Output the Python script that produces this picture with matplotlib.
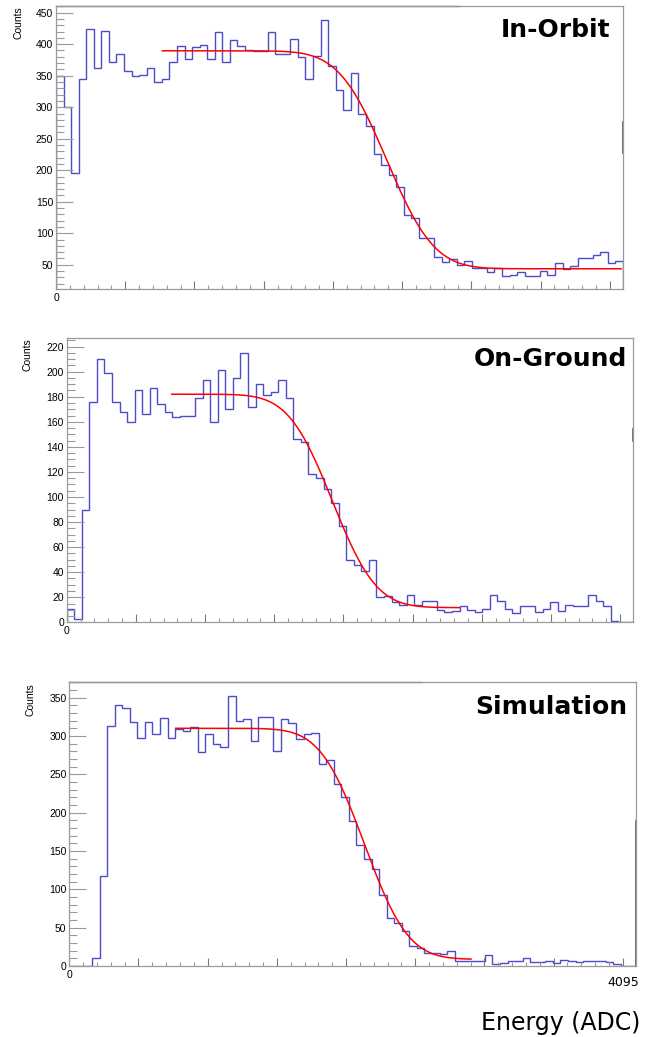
import math
import numpy as np
import matplotlib
matplotlib.use("Agg")
import matplotlib.pyplot as plt
from matplotlib.ticker import MultipleLocator, FixedLocator

# ---------------- data ----------------
adc_min, adc_max, n_bins = 0, 4095, 75

in_orbit = [349, 300, 195, 345, 424, 362, 421, 372, 385, 357,
            349, 351, 362, 340, 345, 372, 397, 377, 396, 399,
            376, 419, 371, 407, 397, 391, 389, 389, 420, 385,
            384, 409, 379, 345, 381, 438, 366, 327, 295, 355,
            289, 270, 225, 209, 193, 174, 129, 124, 93, 92,
            62, 55, 59, 49, 56, 45, 45, 38, 45, 32,
            34, 38, 32, 32, 40, 34, 53, 44, 48, 61,
            60, 65, 70, 53, 56]

on_ground = [11, 3, 90, 176, 210, 199, 176, 168, 160, 185,
             166, 187, 174, 168, 164, 165, 165, 179, 193, 160,
             201, 170, 195, 215, 172, 190, 181, 184, 193, 179,
             146, 144, 118, 115, 106, 95, 77, 50, 46, 41,
             50, 20, 21, 16, 14, 22, 14, 17, 17, 10,
             8, 9, 13, 10, 8, 11, 22, 17, 11, 7.5,
             13, 13, 8, 11, 16, 9, 14, 13, 13, 22,
             17, 13, 1, 0, 0]

simulation = [0, 0, 0, 10, 117, 313, 341, 336, 318, 297,
              318, 302, 324, 297, 309, 306, 312, 279, 303, 290,
              286, 352, 320, 322, 294, 325, 325, 280, 322, 317,
              296, 303, 304, 264, 269, 237, 220, 189, 158, 140,
              127, 93, 62, 56, 46, 26, 24, 17, 17, 16,
              19, 7, 7, 6, 6, 14, 3, 4, 6, 6,
              11, 5, 5, 7, 4, 8, 6, 5, 6, 7,
              6, 5, 3, 0.3, 0]

# fit parameters: plateau, floor, edge position, width, fit range
fit_high = [389.5, 182.0, 310.0]
fit_low = [43.6, 11.7, 8.7]
fit_mu = [2388, 1920, 2132]
fit_sigma = [270, 250, 250]
fit_start = [768, 759, 769]
fit_end = [4081, 2838, 2903]

titles = ["In-Orbit", "On-Ground", "Simulation"]
xlabel = "Energy (ADC)"
ylabel = "Counts"

# ---------------- figure ----------------
W, H = 655, 1037
fig = plt.figure(figsize=(W / 100, H / 100), dpi=100)

boxes = [(56, 6, 623, 289), (66.7, 338.3, 633.3, 622.3), (69.3, 682.3, 636, 966)]
ylims = [(11.5, 460.6), (0, 226.6), (0, 370)]
ymaj = [50, 20, 50]
ymin_step = [10, 5, 10]
ymajor_start = [50, 0, 0]
title_pos = [(610, 30), (627, 359), (627, 707)]
counts_pos = [(18, 6), (27.7, 338.5), (31, 683)]
# darker segments of the right frame edge (fractions of height, from bottom)
dark_right = [(0.48, 0.59), (0.64, 0.68), (0.0, 0.51)]
dark_top = [0.71, 0.0, 0.62]

series = [in_orbit, on_ground, simulation]
edges = np.linspace(adc_min, adc_max, n_bins + 1)
erfc = np.vectorize(math.erfc)

blue = "#4c4cc8"
frame = "#9a9a9a"
tickfont = dict(family="Liberation Sans", size=7.5)

for i in range(3):
    x0, y0, x1, y1 = boxes[i]
    ax = fig.add_axes([x0 / W, 1 - y1 / H, (x1 - x0) / W, (y1 - y0) / H])
    vals = np.asarray(series[i], dtype=float)
    ax.stairs(vals, edges, color=blue, linewidth=1.0, baseline=0)

    xf = np.linspace(fit_start[i], fit_end[i], 400)
    yf = fit_low[i] + (fit_high[i] - fit_low[i]) * 0.5 * erfc(
        (xf - fit_mu[i]) / (math.sqrt(2) * fit_sigma[i]))
    ax.plot(xf, yf, color="red", linewidth=1.1)

    ax.set_xlim(adc_min, adc_max)
    ax.set_ylim(*ylims[i])

    for s in ax.spines.values():
        s.set_color(frame)
        s.set_linewidth(0.9)
    # compositing artefacts of the frame
    ax.plot([1, 1], dark_right[i], transform=ax.transAxes, color="#555555",
            linewidth=1.2, clip_on=False)
    if dark_top[i] > 0:
        ax.plot([0, dark_top[i]], [1, 1], transform=ax.transAxes, color="#777777",
                linewidth=1.0, clip_on=False)

    xt = list(range(0, 4001, 500))
    ax.xaxis.set_major_locator(FixedLocator(xt))
    ax.xaxis.set_minor_locator(MultipleLocator(100))
    ax.set_xticklabels(["0"] + [""] * (len(xt) - 1), fontdict=tickfont)

    ytop = ylims[i][1]
    yt = list(np.arange(ymajor_start[i], ytop, ymaj[i]))
    ax.yaxis.set_major_locator(FixedLocator(yt))
    ax.yaxis.set_minor_locator(MultipleLocator(ymin_step[i]))
    ax.set_yticklabels([f"{int(v)}" for v in yt], fontdict=tickfont)

    ax.tick_params(axis="y", which="major", direction="in", length=12.2,
                   width=0.8, color=frame, pad=2, right=False)
    ax.tick_params(axis="y", which="minor", direction="in", length=5.8,
                   width=0.8, color=frame, right=False)
    ax.tick_params(axis="x", which="major", direction="in", length=6.0,
                   width=0.8, color="#777777", pad=3, top=False)
    ax.tick_params(axis="x", which="minor", direction="in", length=3.0,
                   width=0.8, color=frame, top=False)

    tx, ty = title_pos[i]
    fig.text(tx / W, 1 - ty / H, titles[i], ha="right", va="center",
             fontsize=18, fontweight="bold", family="DejaVu Sans")
    cx, cy = counts_pos[i]
    fig.text(cx / W, 1 - cy / H, ylabel, rotation=90, ha="center", va="top",
             family="Liberation Sans", fontsize=7.5)

    if i == 2:
        ax.text(4000, -0.035, "4095", transform=ax.get_xaxis_transform(),
                ha="center", va="top", family="DejaVu Sans", fontsize=9)

fig.text(640.7 / W, 1 - 1022.7 / H, xlabel, ha="right", va="center",
         fontsize=17, family="DejaVu Sans")

fig.savefig("out.png", dpi=100)
